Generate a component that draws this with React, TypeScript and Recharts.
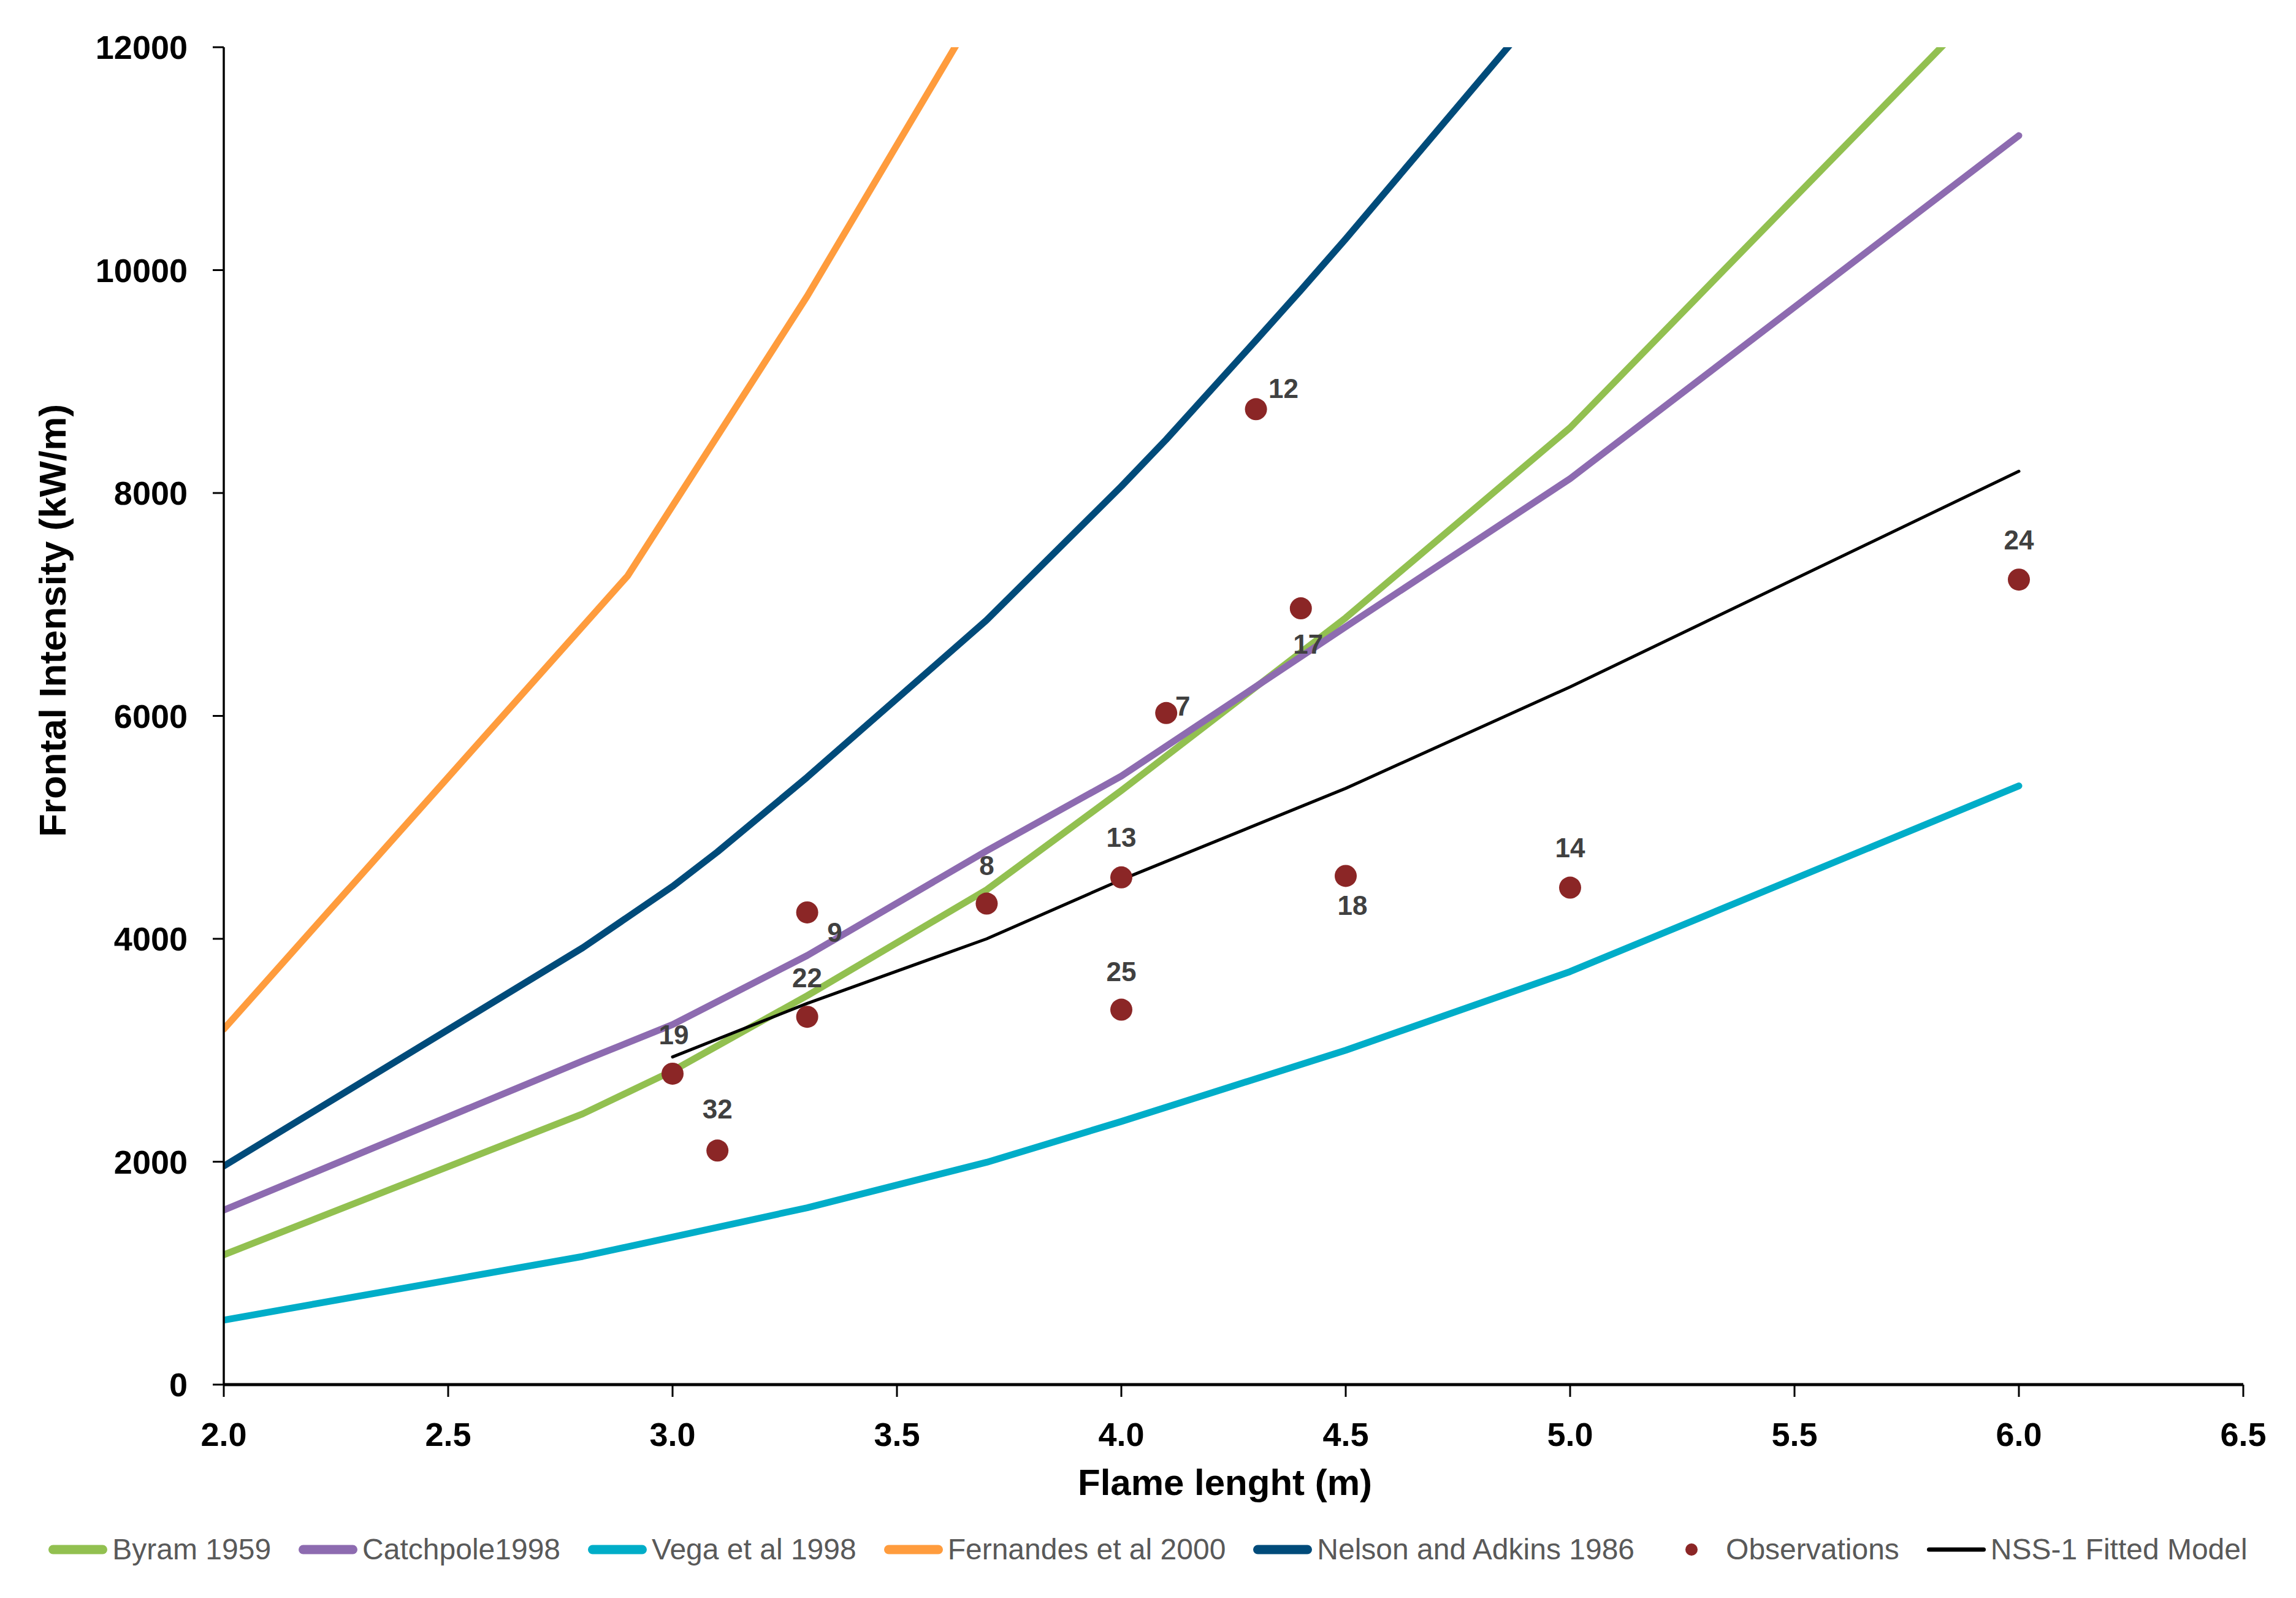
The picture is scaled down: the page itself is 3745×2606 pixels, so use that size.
import React from 'react';
import { ComposedChart, Line, Scatter, XAxis, YAxis, Legend } from 'recharts';

const FONT = '"Liberation Sans", Arial, Helvetica, sans-serif';

// Flame length (m) / Frontal intensity (kW/m)
const byramL = [2.0, 2.8, 3.0, 3.3, 3.7, 4.0, 4.5, 5.0, 6.0];
const byramI = [1165, 2430, 2815, 3490, 4440, 5330, 6880, 8586, 12714];

const catchpoleL = [2.0, 2.8, 3.0, 3.3, 3.7, 4.0, 4.5, 5.0, 6.0];
const catchpoleI = [1566, 2905, 3230, 3850, 4790, 5460, 6800, 8129, 11207];

const vegaL = [2.0, 2.8, 3.0, 3.3, 3.7, 4.0, 4.5, 5.0, 6.0];
const vegaI = [579, 1150, 1324, 1587, 1995, 2361, 3000, 3706, 5372];

const fernandesL = [2.0, 2.9, 3.3, 3.7];
const fernandesI = [3190, 7257, 9766, 12480];

const nelsonL = [2.0, 2.8, 3.0, 3.1, 3.3, 3.7, 4.0, 4.1, 4.3, 4.4, 4.5, 5.0];
const nelsonI = [1961, 3920, 4470, 4780, 5450, 6860, 8060, 8480, 9370, 9820, 10280, 12660];

const nssL = [3.0, 3.3, 3.7, 4.0, 4.5, 5.0, 6.0];
const nssI = [2940, 3420, 4000, 4530, 5350, 6260, 8195];

const obsL = [3.0, 3.1, 3.3, 3.3, 3.7, 4.0, 4.0, 4.1, 4.3, 4.4, 4.5, 5.0, 6.0];
const obsI = [2790, 2100, 3300, 4237, 4316, 4551, 3364, 6026, 8752, 6965, 4564, 4459, 7223];
const obsId = ['19', '32', '22', '9', '8', '13', '25', '7', '12', '17', '18', '14', '24'];

const xTicks = [2.0, 2.5, 3.0, 3.5, 4.0, 4.5, 5.0, 5.5, 6.0, 6.5];
const yTicks = [0, 2000, 4000, 6000, 8000, 10000, 12000];

// label placement (style) relative to each observation dot
const labelOffset: Record<string, [number, number]> = {
  '19': [2, -64],
  '32': [0, -68],
  '22': [0, -64],
  '9': [45, 32],
  '8': [0, -62],
  '13': [0, -66],
  '25': [0, -62],
  '7': [27, -12],
  '12': [45, -34],
  '17': [12, 58],
  '18': [11, 48],
  '14': [0, -65],
  '24': [0, -65],
};

const toPoints = (ls: number[], is: number[]) => ls.map((x, i) => ({ x, y: is[i] }));

const C_BYRAM = '#92C050';
const C_CATCH = '#8D6BB0';
const C_VEGA = '#00ADC8';
const C_FERN = '#FF9C3D';
const C_NELSON = '#004B7A';
const C_OBS = '#8B2626';
const C_NSS = '#000000';

const byramData = toPoints(byramL, byramI);
const catchData = toPoints(catchpoleL, catchpoleI);
const vegaData = toPoints(vegaL, vegaI);
const fernData = toPoints(fernandesL, fernandesI);
const nelsonData = toPoints(nelsonL, nelsonI);
const nssData = toPoints(nssL, nssI);
const obsData = obsL.map((x, i) => ({ x, y: obsI[i], id: obsId[i] }));

const legendItems = [
  { name: 'Byram 1959', color: C_BYRAM, kind: 'line' },
  { name: 'Catchpole1998', color: C_CATCH, kind: 'line' },
  { name: 'Vega et al 1998', color: C_VEGA, kind: 'line' },
  { name: 'Fernandes et al 2000', color: C_FERN, kind: 'line' },
  { name: 'Nelson and Adkins 1986', color: C_NELSON, kind: 'line' },
  { name: 'Observations', color: C_OBS, kind: 'dot' },
  { name: 'NSS-1 Fitted Model', color: C_NSS, kind: 'thin' },
];

const renderLegend = () => (
  <div
    style={{
      display: 'flex',
      justifyContent: 'center',
      alignItems: 'center',
      gap: 45,
      height: 64,
      fontFamily: FONT,
      fontSize: 48,
      color: '#595959',
    }}
  >
    {legendItems.map((it) => (
      <div key={it.name} style={{ display: 'flex', alignItems: 'center', gap: 8 }}>
        <svg width={96} height={30} style={{ display: 'block' }}>
          {it.kind === 'dot' ? (
            <circle cx={48} cy={15} r={10} fill={it.color} />
          ) : (
            <line
              x1={it.kind === 'thin' ? 3.5 : 7.5}
              x2={it.kind === 'thin' ? 92.5 : 88.5}
              y1={15}
              y2={15}
              stroke={it.color}
              strokeWidth={it.kind === 'thin' ? 7 : 15}
              strokeLinecap="round"
            />
          )}
        </svg>
        <span style={{ whiteSpace: 'nowrap', lineHeight: 1 }}>{it.name}</span>
      </div>
    ))}
  </div>
);

const ObsShape = (props: any) => {
  const { cx, cy, payload } = props;
  if (cx == null || cy == null) return null;
  const off = labelOffset[payload.id] ?? [0, -64];
  return (
    <g>
      <circle cx={cx} cy={cy} r={18} fill={C_OBS} />
      <text
        x={cx + off[0]}
        y={cy + off[1]}
        dy="0.36em"
        textAnchor="middle"
        fontFamily={FONT}
        fontSize={44}
        fontWeight={700}
        fill="#404040"
      >
        {payload.id}
      </text>
    </g>
  );
};

const XTitle = (props: any) => {
  const vb = props.viewBox || { x: 365, width: 3294 };
  const cx = vb.x + vb.width / 2 - 14;
  return (
    <text x={cx} y={2438} textAnchor="middle" fontFamily={FONT} fontSize={60} fontWeight={700} fill="#000">
      Flame lenght (m)
    </text>
  );
};

const YTitle = () => {
  const cx = 85;
  const cy = 1012;
  return (
    <text
      x={cx}
      y={cy}
      dy="0.36em"
      transform={`rotate(-90, ${cx}, ${cy})`}
      textAnchor="middle"
      fontFamily={FONT}
      fontSize={62}
      fontWeight={700}
      fill="#000"
    >
      Frontal Intensity (kW/m)
    </text>
  );
};

const tickStyle = { fill: '#000', fontSize: 54, fontWeight: 700, fontFamily: FONT };

export default function App() {
  return (
    <div style={{ width: 3745, height: 2606, background: '#fff', position: 'relative' }}>
      <style>{`body{margin:0;background:#fff;}`}</style>
      <ComposedChart
        width={3745}
        height={2606}
        margin={{ top: 77, right: 86, bottom: 0, left: 0 }}
      >
        <XAxis
          type="number"
          dataKey="x"
          domain={[2, 6.5]}
          ticks={xTicks}
          interval={0}
          allowDataOverflow
          tickFormatter={(v: number) => v.toFixed(1)}
          height={348}
          tickSize={20}
          tickMargin={42}
          axisLine={{ stroke: '#000', strokeWidth: 5 }}
          tickLine={{ stroke: '#000', strokeWidth: 3 }}
          tick={tickStyle}
          label={(p: any) => <XTitle {...p} />}
        />
        <YAxis
          type="number"
          dataKey="y"
          domain={[0, 12000]}
          ticks={yTicks}
          interval={0}
          allowDataOverflow
          width={365}
          tickSize={18}
          tickMargin={41}
          axisLine={{ stroke: '#000', strokeWidth: 3.5 }}
          tickLine={{ stroke: '#000', strokeWidth: 3 }}
          tick={tickStyle}
          label={() => <YTitle />}
        />
        <Legend
          layout="horizontal"
          verticalAlign="middle"
          align="center"
          wrapperStyle={{ position: 'absolute', top: 2495, left: 0, width: 3745, height: 64 }}
          content={renderLegend}
        />
        <Line data={byramData} dataKey="y" name="Byram 1959" stroke={C_BYRAM} strokeWidth={11} dot={false} activeDot={false} strokeLinecap="round" strokeLinejoin="round" isAnimationActive={false} />
        <Line data={catchData} dataKey="y" name="Catchpole1998" stroke={C_CATCH} strokeWidth={11} dot={false} activeDot={false} strokeLinecap="round" strokeLinejoin="round" isAnimationActive={false} />
        <Line data={vegaData} dataKey="y" name="Vega et al 1998" stroke={C_VEGA} strokeWidth={11} dot={false} activeDot={false} strokeLinecap="round" strokeLinejoin="round" isAnimationActive={false} />
        <Line data={fernData} dataKey="y" name="Fernandes et al 2000" stroke={C_FERN} strokeWidth={11} dot={false} activeDot={false} strokeLinecap="round" strokeLinejoin="round" isAnimationActive={false} />
        <Line data={nelsonData} dataKey="y" name="Nelson and Adkins 1986" stroke={C_NELSON} strokeWidth={11} dot={false} activeDot={false} strokeLinecap="round" strokeLinejoin="round" isAnimationActive={false} />
        <Scatter data={obsData} dataKey="y" name="Observations" fill={C_OBS} shape={ObsShape} isAnimationActive={false} />
        <Line data={nssData} dataKey="y" name="NSS-1 Fitted Model" stroke={C_NSS} strokeWidth={5} dot={false} activeDot={false} strokeLinecap="round" strokeLinejoin="round" isAnimationActive={false} />
      </ComposedChart>
    </div>
  );
}
